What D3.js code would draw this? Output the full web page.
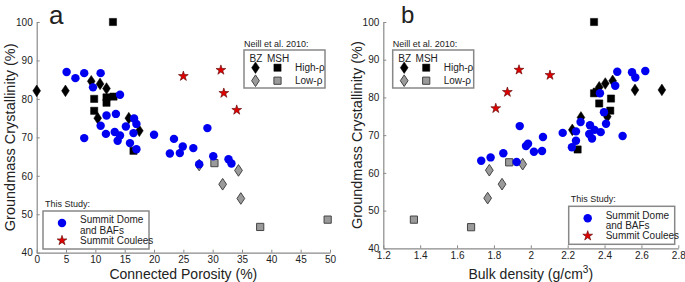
<!DOCTYPE html>
<html>
<head>
<meta charset="utf-8">
<script src="https://cdn.jsdelivr.net/npm/d3@7"></script>
<style>
  body { margin: 0; background: #fff; }
  text { font-family: "Liberation Sans", Arial, sans-serif; fill: #222; }
</style>
</head>
<body>
<svg id="chart" width="685" height="282"></svg>
<script>
// ---- panel a: connected porosity (%) vs groundmass crystallinity (%)
var domeA = [[5.1,87.0],[6.6,85.4],[8.1,86.7],[10.9,86.7],[9.6,83.0],[14.2,81.1],[10.9,73.0],[11.9,75.7],
  [13.5,76.1],[16.6,74.9],[17.0,73.5],[15.2,72.8],[11.8,70.9],[13.3,71.4],[14.2,70.5],[16.5,71.1],
  [8.1,69.8],[20.0,70.7],[23.4,69.6],[29.1,72.4],[13.8,69.1],[15.9,68.5],[17.0,66.9],[22.7,65.8],
  [24.4,65.9],[24.9,67.6],[26.7,67.2],[30.1,65.1],[32.7,64.3],[33.2,63.2],[27.7,63.0]];
var couleesA = [[25.0,85.9],[31.4,87.5],[31.9,81.5],[34.1,77.1]];
var bzHighA = [[0,82.1],[4.9,82.1],[9.3,84.6],[10.8,83.9],[11.9,82.7],[10.4,75.0],[15.7,75.0],[17.5,71.7]];
var mshHighA = [[13.0,100],[9.8,80.0],[11.9,80.4],[11.9,79.0],[13.1,80.6],[9.8,76.9],[16.5,66.5]];
var bzLowA = [[27.7,62.8],[34.4,61.4],[31.7,57.8],[34.8,54.1]];
var mshLowA = [[30.3,63.3],[38.1,46.7],[49.6,48.6]];

// ---- panel b: bulk density (g/cm3) vs groundmass crystallinity (%)
var domeB = [[2.469,86.8],[2.549,86.7],[2.621,87.0],[2.567,85.3],[2.458,83.1],[2.375,81.1],[2.397,76.1],
  [2.408,73.0],[2.498,69.8],[2.379,70.8],[2.346,71.4],[2.321,72.6],[2.317,70.3],[2.332,69.1],[2.270,73.5],
  [2.245,71.0],[2.245,68.5],[2.223,66.8],[2.173,70.6],[2.066,69.5],[1.985,67.7],[1.974,67.1],[2.017,65.6],
  [2.061,65.8],[1.940,72.4],[1.851,65.2],[1.782,64.1],[1.731,63.2],[1.923,62.9]];
var couleesB = [[1.936,87.3],[2.104,85.9],[1.873,81.4],[1.810,77.1]];
var bzHighB = [[2.711,82.0],[2.565,82.0],[2.444,84.4],[2.404,83.7],[2.371,82.7],[2.272,74.7],[2.225,71.4],[2.415,74.9]];
var mshHighB = [[2.343,100],[2.343,81.1],[2.357,81.5],[2.371,78.4],[2.435,79.7],[2.431,76.5],[2.254,66.2]];
var bzLowB = [[1.956,62.3],[1.775,60.7],[1.844,57.0],[1.766,53.3]];
var mshLowB = [[1.366,47.6],[1.676,45.6],[1.883,62.8]];

var yTicks = [40,50,60,70,80,90,100];
var xTicksA = [0,5,10,15,20,25,30,35,40,45,50];
var xTicksB = [1.2,1.4,1.6,1.8,2,2.2,2.4,2.6,2.8];

var svg = d3.select("#chart");

// tall matlab style diamond
var tallDiamond = {
  draw: function (ctx, size) {
    var w = Math.sqrt(size) / 2, h = w * 1.5;
    ctx.moveTo(0, -h); ctx.lineTo(w, 0); ctx.lineTo(0, h); ctx.lineTo(-w, 0); ctx.closePath();
  }
};

var styles = {
  dome:  { type: d3.symbolCircle, size: 56, fill: "#0000f0", stroke: "none", sw: 0 },
  star:  { type: d3.symbolStar, size: 30, fill: "#e00000", stroke: "#5a0000", sw: 0.6 },
  bzHi:  { type: tallDiamond, size: 60, fill: "#000", stroke: "#000", sw: 0.5 },
  mshHi: { type: d3.symbolSquare, size: 52, fill: "#000", stroke: "#000", sw: 0.5 },
  bzLo:  { type: tallDiamond, size: 60, fill: "#9a9a9a", stroke: "#444", sw: 1 },
  mshLo: { type: d3.symbolSquare, size: 52, fill: "#9a9a9a", stroke: "#444", sw: 1 }
};

function marker(g, st, x, y) {
  g.append("path")
    .attr("d", d3.symbol().type(st.type).size(st.size)())
    .attr("transform", "translate(" + x + "," + y + ")")
    .attr("fill", st.fill)
    .attr("stroke", st.stroke)
    .attr("stroke-width", st.sw);
}

function create_panel(p) {
  var xscale = d3.scaleLinear().domain(p.xdomain).range(p.xrange);
  var yscale = d3.scaleLinear().domain([40, 100]).range(p.yrange);
  var g = svg.append("g");

  var xAxis = g.append("g")
    .attr("transform", "translate(0," + p.yrange[0] + ")")
    .call(d3.axisBottom(xscale).tickValues(p.xticks).tickSizeInner(-3).tickSizeOuter(0).tickPadding(3.5)
      .tickFormat(d3.format("~g")));
  var yAxis = g.append("g")
    .attr("transform", "translate(" + p.xrange[0] + ",0)")
    .call(d3.axisLeft(yscale).tickValues(yTicks).tickSizeInner(-3).tickSizeOuter(0).tickPadding(4));
  [xAxis, yAxis].forEach(function (a) {
    a.select(".domain").attr("stroke", "#8a8a8a").attr("stroke-width", 1.2);
    a.selectAll(".tick line").attr("stroke", "#8a8a8a");
    a.selectAll("text").style("font-size", "10px").attr("fill", "#333");
  });

  // axis titles
  g.append("text")
    .attr("transform", "translate(" + p.ylabX + "," + (p.yrange[0] + p.yrange[1]) / 2 + ")rotate(-90)")
    .attr("text-anchor", "middle").attr("dy", "0.35em")
    .style("font-size", "14.5px")
    .text("Groundmass Crystallinity (%)");
  var xl = g.append("text")
    .attr("x", (p.xrange[0] + p.xrange[1]) / 2).attr("y", 279)
    .attr("text-anchor", "middle")
    .style("font-size", "14px");
  xl.append("tspan").text(p.xlabel);
  if (p.sup) {
    xl.append("tspan").attr("dy", -6).style("font-size", "10px").text(p.sup);
    xl.append("tspan").attr("dy", 6).text(")");
  }

  g.append("text").attr("x", p.letterX).attr("y", p.letterY)
    .style("font-size", p.letterSize + "px").attr("fill", "#000").text(p.letter);

  // points, neill first then this study
  [[p.mshLo, styles.mshLo], [p.bzLo, styles.bzLo], [p.mshHi, styles.mshHi], [p.bzHi, styles.bzHi],
   [p.dome, styles.dome], [p.coulees, styles.star]].forEach(function (s) {
    s[0].forEach(function (d) { marker(g, s[1], xscale(d[0]), yscale(d[1])); });
  });

  // neill legend
  var nx = p.neill[0], ny = p.neill[1];
  g.append("text").attr("x", nx).attr("y", ny - 3).style("font-size", "9px").text("Neill et al. 2010:");
  g.append("rect").attr("x", nx).attr("y", ny).attr("width", 81).attr("height", 38)
    .attr("fill", "#fff").attr("stroke", "#888").attr("stroke-width", 1.5);
  g.append("text").attr("x", nx + 12).attr("y", ny + 5).attr("dy", "0.71em").attr("text-anchor", "middle")
    .style("font-size", "10px").text("BZ");
  g.append("text").attr("x", nx + 34).attr("y", ny + 5).attr("dy", "0.71em").attr("text-anchor", "middle")
    .style("font-size", "10px").text("MSH");
  marker(g, styles.bzHi, nx + 11.5, ny + 17.7);
  marker(g, styles.mshHi, nx + 33.5, ny + 17.7);
  marker(g, styles.bzLo, nx + 11.5, ny + 30.7);
  marker(g, styles.mshLo, nx + 33.5, ny + 30.7);
  g.append("text").attr("x", nx + 51).attr("y", ny + 17.7).attr("dy", "0.35em").style("font-size", "10px").text("High-ρ");
  g.append("text").attr("x", nx + 51).attr("y", ny + 30.7).attr("dy", "0.35em").style("font-size", "10px").text("Low-ρ");

  // this study legend
  var tx = p.study[0], ty = p.study[1];
  g.append("text").attr("x", tx + 2).attr("y", ty - 4).style("font-size", "9px").text("This Study:");
  g.append("rect").attr("x", tx).attr("y", ty).attr("width", 106).attr("height", 38)
    .attr("fill", "#fff").attr("stroke", "#888").attr("stroke-width", 1.5);
  marker(g, styles.dome, tx + 19, ty + 12);
  marker(g, styles.star, tx + 19, ty + 29.5);
  g.append("text").attr("x", tx + 37).attr("y", ty + 8.7).attr("dy", "0.35em").style("font-size", "10px").text("Summit Dome");
  g.append("text").attr("x", tx + 37).attr("y", ty + 19.5).attr("dy", "0.35em").style("font-size", "10px").text("and BAFs");
  g.append("text").attr("x", tx + 37).attr("y", ty + 29.5).attr("dy", "0.35em").style("font-size", "10px").text("Summit Coulees");
}

create_panel({
  xdomain: [0, 50], xrange: [36.7, 330], yrange: [252.7, 22], xticks: xTicksA,
  xlabel: "Connected Porosity (%)", ylabX: 10, letter: "a", letterX: 49, letterY: 23.5, letterSize: 26,
  dome: domeA, coulees: couleesA, bzHi: bzHighA, mshHi: mshHighA, bzLo: bzLowA, mshLo: mshLowA,
  neill: [244, 50], study: [43, 211]
});
create_panel({
  xdomain: [1.2, 2.8], xrange: [383.3, 678.3], yrange: [248.3, 22], xticks: xTicksB,
  xlabel: "Bulk density (g/cm", sup: "3", ylabX: 357, letter: "b", letterX: 401, letterY: 22.5, letterSize: 24,
  dome: domeB, coulees: couleesB, bzHi: bzHighB, mshHi: mshHighB, bzLo: bzLowB, mshLo: mshLowB,
  neill: [392.7, 50], study: [568.7, 206.3]
});
</script>
</body>
</html>
